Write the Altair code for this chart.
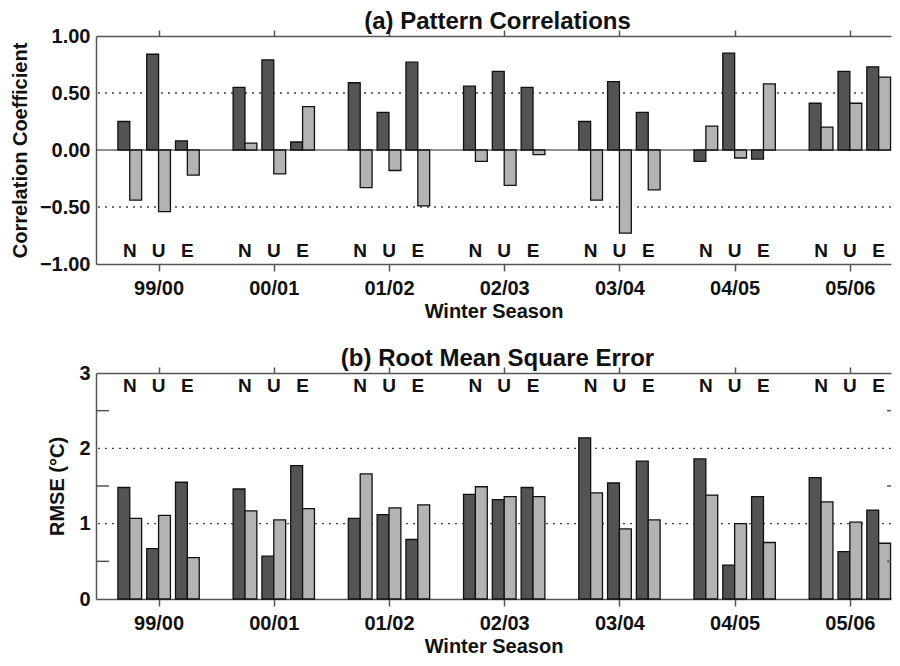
import json
import altair as alt
import pandas as pd

seasons = ["99/00", "00/01", "01/02", "02/03", "03/04", "04/05", "05/06"]
models = ["N", "U", "E"]
kinds = ["dark", "light"]

corr_N_dark = [0.25, 0.55, 0.59, 0.56, 0.25, -0.10, 0.41]
corr_N_light = [-0.44, 0.06, -0.33, -0.10, -0.44, 0.21, 0.20]
corr_U_dark = [0.84, 0.79, 0.33, 0.69, 0.60, 0.85, 0.69]
corr_U_light = [-0.54, -0.21, -0.18, -0.31, -0.73, -0.07, 0.41]
corr_E_dark = [0.08, 0.07, 0.77, 0.55, 0.33, -0.08, 0.73]
corr_E_light = [-0.22, 0.38, -0.49, -0.04, -0.35, 0.58, 0.64]

rmse_N_dark = [1.48, 1.46, 1.07, 1.39, 2.14, 1.86, 1.61]
rmse_N_light = [1.07, 1.17, 1.66, 1.49, 1.41, 1.38, 1.29]
rmse_U_dark = [0.67, 0.57, 1.12, 1.32, 1.54, 0.45, 0.63]
rmse_U_light = [1.11, 1.05, 1.21, 1.36, 0.93, 1.00, 1.02]
rmse_E_dark = [1.55, 1.77, 0.79, 1.48, 1.83, 1.36, 1.18]
rmse_E_light = [0.55, 1.20, 1.25, 1.36, 1.05, 0.75, 0.74]

corr_ticks = [-1.0, -0.5, 0.0, 0.5, 1.0]
corr_grid = [-0.5, 0.5]
rmse_ticks = [0, 1, 2, 3]
rmse_grid = [1, 2]
rmse_minor = [0.5, 1.5, 2.5]

FONT = "Liberation Sans"
W = 795
DARK = "#545454"
LIGHT = "#b3b3b3"
AX = "#555555"


def long_df(series):
    rows = []
    for (m, k), vals in series.items():
        for si, v in enumerate(vals):
            rows.append(dict(season=seasons[si], si=si, model=m, gi=models.index(m),
                             kind=k, bi=kinds.index(k), value=v))
    return pd.DataFrame(rows)


corr_df = long_df({("N", "dark"): corr_N_dark, ("N", "light"): corr_N_light,
                   ("U", "dark"): corr_U_dark, ("U", "light"): corr_U_light,
                   ("E", "dark"): corr_E_dark, ("E", "light"): corr_E_light})
rmse_df = long_df({("N", "dark"): rmse_N_dark, ("N", "light"): rmse_N_light,
                   ("U", "dark"): rmse_U_dark, ("U", "light"): rmse_U_light,
                   ("E", "dark"): rmse_E_dark, ("E", "light"): rmse_E_light})
lab_df = pd.DataFrame([dict(si=si, gi=gi, model=m) for si in range(len(seasons))
                       for gi, m in enumerate(models)])

label_expr = json.dumps(seasons) + "[datum.value]"
common = dict(labelFont=FONT, labelFontWeight="bold", labelFontSize=20, labelColor="#111",
              domainColor=AX, domainWidth=1.5, tickColor=AX, tickWidth=1.5, grid=False)


def panel(df, h, ydomain, yvalues, yfmt, ytitle, ytitle_x, grid_vals, label_y, title,
          zero_line=False, minor=None):
    xscale = alt.Scale(domain=[-0.543, 6.357], nice=False, zero=False)
    yscale = alt.Scale(domain=ydomain, nice=False, zero=False)
    yaxis = alt.Axis(values=yvalues, format=yfmt, tickSize=0, labelPadding=6,
                     title=ytitle, titleFont=FONT, titleFontSize=20,
                     titleFontWeight="bold", titleColor="#111",
                     titleX=ytitle_x, titleY=h / 2, titleAngle=270,
                     titleAlign="center", titleBaseline="middle", **common)

    def yenc(field):
        return alt.Y(field, scale=yscale, axis=yaxis)

    layers = []
    layers.append(
        alt.Chart(pd.DataFrame({"value": grid_vals})).mark_rule(
            color="#444", strokeDash=[2, 5], strokeWidth=1.4
        ).encode(y=yenc("value:Q"))
    )
    if zero_line:
        layers.append(
            alt.Chart(pd.DataFrame({"value": [0]})).mark_rule(color="#222", strokeWidth=1.2)
            .encode(y=yenc("value:Q"))
        )
    bars = alt.Chart(df).transform_calculate(
        x0="datum.si + (datum.gi - 1) * 0.25 + (datum.bi - 1) * 0.103",
        x1="datum.si + (datum.gi - 1) * 0.25 + datum.bi * 0.103",
    ).mark_bar(stroke="#111", strokeWidth=1.3).encode(
        x=alt.X("x0:Q", scale=xscale,
                axis=alt.Axis(orient="bottom", values=list(range(len(seasons))),
                              labelExpr=label_expr, tickSize=7, labelPadding=7,
                              title="Winter Season", titleFont=FONT, titleFontSize=20,
                              titleFontWeight="bold", titleColor="#111", titlePadding=3,
                              **common)),
        x2="x1:Q",
        y=yenc("value:Q"),
        y2=alt.datum(0),
        color=alt.Color("kind:N", scale=alt.Scale(domain=kinds, range=[DARK, LIGHT]),
                        legend=None),
    )
    layers.append(bars)
    labels = alt.Chart(lab_df).transform_calculate(
        xc="datum.si + (datum.gi - 1) * 0.25"
    ).mark_text(font=FONT, fontWeight="bold", fontSize=19, color="#111",
                baseline="middle").encode(
        x=alt.X("xc:Q", scale=xscale,
                axis=alt.Axis(orient="top", values=list(range(len(seasons))), labels=False,
                              tickSize=6, title=None, **common)),
        y=alt.value(label_y),
        text="model:N",
    )
    layers.append(labels)
    if minor is not None:
        mdf = pd.DataFrame({"value": minor})
        layers.append(
            alt.Chart(mdf).mark_rule(color=AX, strokeWidth=1.5)
            .encode(x=alt.value(0), x2=alt.value(13), y=yenc("value:Q"))
        )
        layers.append(
            alt.Chart(mdf).mark_rule(color=AX, strokeWidth=1.5)
            .encode(x=alt.value(W - 4), x2=alt.value(W), y=yenc("value:Q"))
        )
    return alt.layer(*layers).properties(
        width=W, height=h,
        title=alt.TitleParams(title, font=FONT, fontSize=24, fontWeight="bold", color="#111",
                              anchor="middle", frame="group", offset=-8, dx=4),
    )


top = panel(corr_df, 228, [-1, 1], corr_ticks, ".2f", "Correlation Coefficient", -76,
            corr_grid, 214.5, "(a) Pattern Correlations", zero_line=True)
bottom = panel(rmse_df, 226, [0, 3], rmse_ticks, "d", "RMSE (°C)", -39,
               rmse_grid, 13, "(b) Root Mean Square Error", minor=rmse_minor)

chart = alt.vconcat(top, bottom, spacing=109, bounds="flush").properties(
    padding={"left": 2, "top": 2, "right": 0, "bottom": 0}
).configure_view(stroke=None)

chart.save("out.html", embed_options={"renderer": "svg", "actions": False})
